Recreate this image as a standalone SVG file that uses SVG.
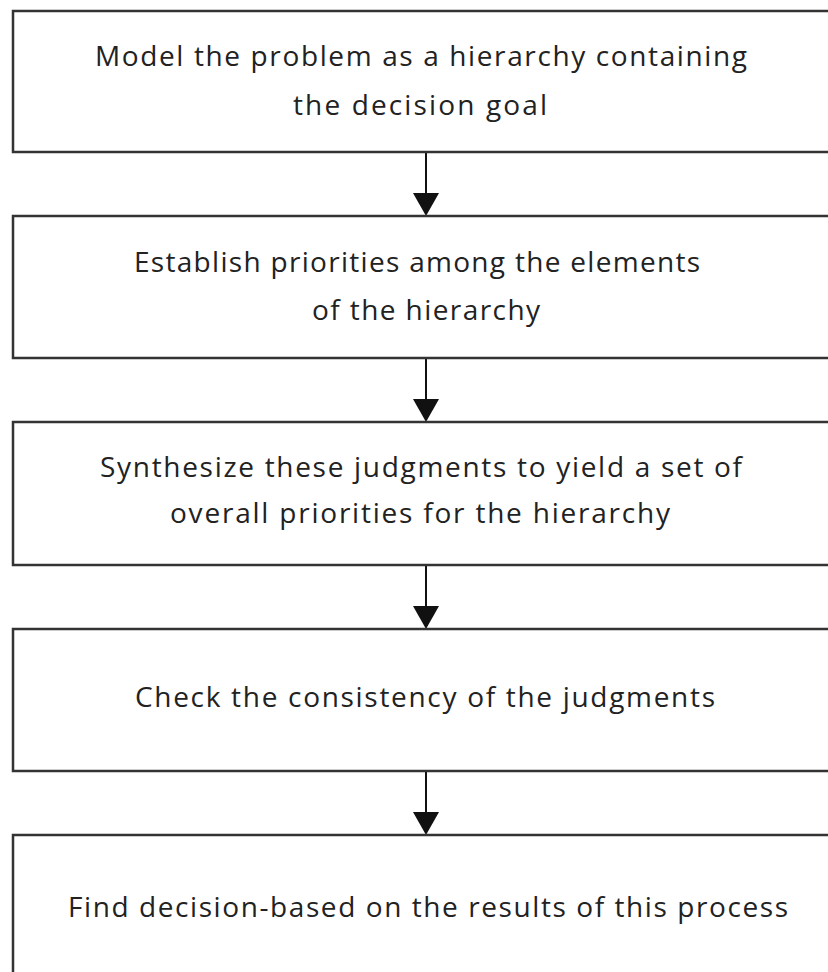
<svg xmlns="http://www.w3.org/2000/svg" width="828" height="972" viewBox="0 0 828 972">
<defs>
<style>
.box{fill:#fff;stroke:#333;stroke-width:2.5}
.t{font-family:"Open Sans","DejaVu Sans",sans-serif;font-size:28px;fill:#222;text-anchor:middle}
.c{stroke:#111;stroke-width:2;fill:none}
.h{fill:#111}
</style>
</defs>
<rect width="828" height="972" fill="#fff"/>
<g id="connectors">
<line class="c" x1="426" y1="152" x2="426" y2="196"/>
<polygon class="h" points="413,193 439,193 426,216"/>
<line class="c" x1="426" y1="358" x2="426" y2="402"/>
<polygon class="h" points="413,399 439,399 426,422"/>
<line class="c" x1="426" y1="565" x2="426" y2="609"/>
<polygon class="h" points="413,606 439,606 426,629"/>
<line class="c" x1="426" y1="771" x2="426" y2="815"/>
<polygon class="h" points="413,812 439,812 426,835"/>
</g>
<g id="n1">
<rect class="box" x="13" y="11" width="830" height="141"/>
<text class="t" x="421" y="66" textLength="652" lengthAdjust="spacing">Model the problem as a hierarchy containing</text>
<text class="t" x="420" y="115" textLength="254" lengthAdjust="spacing">the decision goal</text>
</g>
<g id="n2">
<rect class="box" x="13" y="216" width="830" height="142"/>
<text class="t" x="417" y="272" textLength="566" lengthAdjust="spacing">Establish priorities among the elements</text>
<text class="t" x="426" y="320" textLength="228" lengthAdjust="spacing">of the hierarchy</text>
</g>
<g id="n3">
<rect class="box" x="13" y="422" width="830" height="143"/>
<text class="t" x="421" y="477" textLength="642" lengthAdjust="spacing">Synthesize these judgments to yield a set of</text>
<text class="t" x="420" y="523" textLength="500" lengthAdjust="spacing">overall priorities for the hierarchy</text>
</g>
<g id="n4">
<rect class="box" x="13" y="629" width="830" height="142"/>
<text class="t" x="425" y="707" textLength="580" lengthAdjust="spacing">Check the consistency of the judgments</text>
</g>
<g id="n5">
<rect class="box" x="13" y="835" width="830" height="160"/>
<text class="t" x="428" y="917" textLength="720" lengthAdjust="spacing">Find decision-based on the results of this process</text>
</g>
</svg>
